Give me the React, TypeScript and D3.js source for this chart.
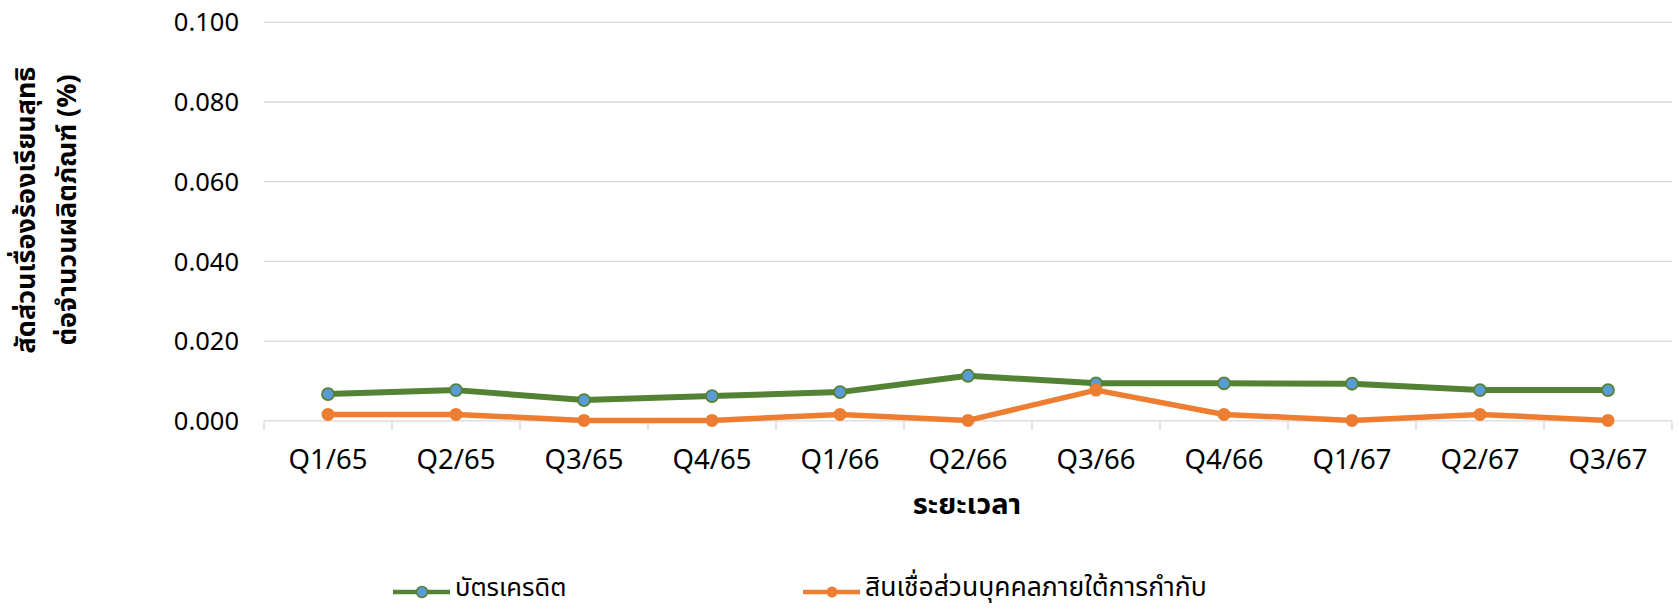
import React from "react";
import * as d3 from "d3";

const categories = ["Q1/65","Q2/65","Q3/65","Q4/65","Q1/66","Q2/66","Q3/66","Q4/66","Q1/67","Q2/67","Q3/67"];
const creditCard = [0.0067,0.0077,0.0052,0.0062,0.0072,0.0113,0.0094,0.0094,0.0093,0.0077,0.0077];
const personalLoan = [0.0016,0.0016,0.0001,0.0001,0.0016,0.0001,0.0077,0.0016,0.0001,0.0016,0.0001];
const yTicks = [0, 0.02, 0.04, 0.06, 0.08, 0.1];
const seriesNames = ["บัตรเครดิต", "สินเชื่อส่วนบุคคลภายใต้การกำกับ"];
const yTitle1 = "สัดส่วนเรื่องร้องเรียนสุทธิ";
const yTitle2 = "ต่อจำนวนผลิตภัณฑ์ (%)";
const xTitle = "ระยะเวลา";

const W = 1679, H = 610;
const FONT = "Tahoma, 'Noto Sans Thai', 'DejaVu Sans', 'Noto Sans', sans-serif";
const GREEN = "#548235", ORANGE = "#ED7D31", BLUE = "#5B9BD5", GRID = "#D9D9D9";

export default function App() {
  const x = d3.scaleBand<string>().domain(categories).range([264, 1672]);
  const y = d3.scaleLinear().domain([0, 0.1]).range([420.8, 22.3]);
  const cx = (c: string) => (x(c) as number) + x.bandwidth() / 2;
  const line = d3.line<number>().x((_, i) => cx(categories[i])).y((d) => y(d));
  const bounds = [...categories.map((c) => x(c) as number), 1672];

  return (
    <svg width={W} height={H} style={{ position: "absolute", left: 0, top: 0, background: "#fff" }} fontFamily={FONT}>
      {yTicks.map((t) => (
        <g key={t}>
          <line x1={264} x2={1672} y1={y(t)} y2={y(t)} stroke={GRID} strokeWidth={1.3} />
          <text x={239} y={y(t)} dy="0.36em" textAnchor="end" fontSize={25.5} fill="#000">{d3.format(".3f")(t)}</text>
        </g>
      ))}
      {bounds.map((b, i) => (
        <line key={i} x1={b} x2={b} y1={y(0)} y2={430} stroke={GRID} strokeWidth={1.3} />
      ))}
      {categories.map((c) => (
        <text key={c} x={cx(c)} y={469} textAnchor="middle" fontSize={27.5} fill="#000">{c}</text>
      ))}
      <text x={967} y={514} textAnchor="middle" fontSize={29} fontWeight="bold" fill="#000">{xTitle}</text>
      <g transform="translate(0,210) rotate(-90)">
        <text x={0} y={35} textAnchor="middle" fontSize={27} fontWeight="bold" fill="#000">{yTitle1}</text>
        <text x={0} y={76} textAnchor="middle" fontSize={27} fontWeight="bold" fill="#000">{yTitle2}</text>
      </g>
      <path d={line(personalLoan) || ""} fill="none" stroke={ORANGE} strokeWidth={5.5} strokeLinejoin="round" />
      <path d={line(creditCard) || ""} fill="none" stroke={GREEN} strokeWidth={6} strokeLinejoin="round" />
      {creditCard.map((v, i) => (
        <circle key={"g" + i} cx={cx(categories[i])} cy={y(v)} r={6} fill={BLUE} stroke={GREEN} strokeWidth={1.8} />
      ))}
      {personalLoan.map((v, i) => (
        <circle key={"o" + i} cx={cx(categories[i])} cy={y(v)} r={6.5} fill={ORANGE} />
      ))}
      <g>
        <line x1={393} x2={450} y1={592} y2={592} stroke={GREEN} strokeWidth={4.5} />
        <circle cx={422} cy={592} r={5.5} fill={BLUE} stroke={GREEN} strokeWidth={1.5} />
        <text x={455} y={596} fontSize={25.5} fill="#000">{seriesNames[0]}</text>
        <line x1={803} x2={860} y1={592} y2={592} stroke={ORANGE} strokeWidth={4.5} />
        <circle cx={832} cy={592} r={5.5} fill={ORANGE} />
        <text x={865} y={596} fontSize={26.5} fill="#000">{seriesNames[1]}</text>
      </g>
    </svg>
  );
}
